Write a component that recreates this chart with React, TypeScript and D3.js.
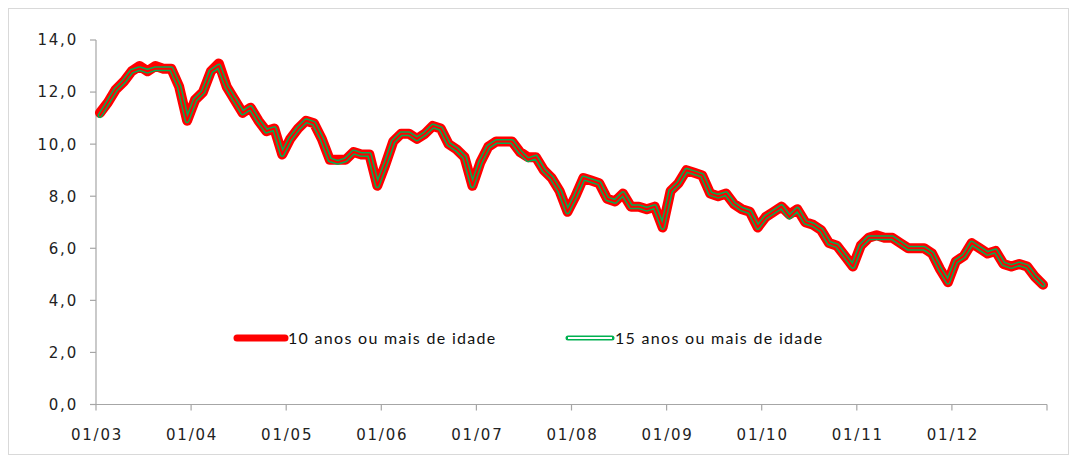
import React from "react";
import * as d3 from "d3";

const years = ["03", "04", "05", "06", "07", "08", "09", "10", "11", "12"];
const tickLabels = years.map((y) => `01/${y}`);
const yTicks = [0, 2, 4, 6, 8, 10, 12, 14];

const series10 = [
  11.2, 11.6, 12.1, 12.4, 12.8, 13.0, 12.8, 13.0, 12.9, 12.9, 12.2, 10.9,
  11.7, 12.0, 12.8, 13.1, 12.2, 11.7, 11.2, 11.4, 10.9, 10.5, 10.6, 9.6,
  10.2, 10.6, 10.9, 10.8, 10.2, 9.4, 9.4, 9.4, 9.7, 9.6, 9.6, 8.4,
  9.2, 10.1, 10.4, 10.4, 10.2, 10.4, 10.7, 10.6, 10.0, 9.8, 9.5, 8.4,
  9.3, 9.9, 10.1, 10.1, 10.1, 9.7, 9.5, 9.5, 9.0, 8.7, 8.2, 7.4,
  8.0, 8.7, 8.6, 8.5, 7.9, 7.8, 8.1, 7.6, 7.6, 7.5, 7.6, 6.8,
  8.2, 8.5, 9.0, 8.9, 8.8, 8.1, 8.0, 8.1, 7.7, 7.5, 7.4, 6.8,
  7.2, 7.4, 7.6, 7.3, 7.5, 7.0, 6.9, 6.7, 6.2, 6.1, 5.7, 5.3,
  6.1, 6.4, 6.5, 6.4, 6.4, 6.2, 6.0, 6.0, 6.0, 5.8, 5.2, 4.7,
  5.5, 5.7, 6.2, 6.0, 5.8, 5.9, 5.4, 5.3, 5.4, 5.3, 4.9, 4.6,
];

const series15 = [
  11.1, 11.6, 12.1, 12.4, 12.8, 12.9, 12.8, 12.9, 12.9, 12.9, 12.2, 10.9,
  11.7, 12.0, 12.8, 13.0, 12.2, 11.7, 11.2, 11.4, 10.9, 10.5, 10.6, 9.6,
  10.2, 10.6, 10.9, 10.8, 10.2, 9.4, 9.3, 9.4, 9.7, 9.6, 9.6, 8.4,
  9.2, 10.1, 10.4, 10.4, 10.2, 10.4, 10.7, 10.6, 10.0, 9.8, 9.5, 8.4,
  9.3, 9.9, 10.1, 10.1, 10.1, 9.7, 9.4, 9.5, 9.0, 8.7, 8.2, 7.4,
  8.0, 8.7, 8.6, 8.5, 7.9, 7.8, 8.1, 7.6, 7.6, 7.5, 7.6, 6.8,
  8.2, 8.5, 9.0, 8.9, 8.8, 8.1, 8.0, 8.1, 7.7, 7.5, 7.4, 6.8,
  7.2, 7.4, 7.6, 7.2, 7.5, 7.0, 6.9, 6.7, 6.2, 6.1, 5.7, 5.3,
  6.1, 6.4, 6.4, 6.4, 6.4, 6.2, 6.0, 6.0, 6.0, 5.8, 5.2, 4.7,
  5.5, 5.7, 6.2, 6.0, 5.8, 5.9, 5.4, 5.3, 5.4, 5.3, 4.9, 4.6,
];

const legendLabels = ["10 anos ou mais de idade", "15 anos ou mais de idade"];

const W = 1077;
const H = 461;
const left = 96;
const right = 1047;
const top = 40;
const bottom = 404.5;
const RED = "#ff0000";
const GREEN = "#00b050";
const AXIS = "#a6a6a6";

export default function App() {
  const n = series10.length;
  const x = d3
    .scaleBand<number>()
    .domain(d3.range(n))
    .range([left, right]);
  const y = d3.scaleLinear().domain([0, 14]).range([bottom, top]);
  const cx = (i: number) => (x(i) as number) + x.bandwidth() / 2;
  const line = d3
    .line<number>()
    .x((_, i) => cx(i))
    .y((d) => y(d));
  const p10 = line(series10) || "";
  const p15 = line(series15) || "";
  const xTickPos = d3.range(0, n + 1, 12).map((i) =>
    i < n ? (x(i) as number) : right
  );

  const axisFont = "'DejaVu Sans', Verdana, sans-serif";
  const legendFont = "Lato, 'Open Sans', sans-serif";

  return (
    <svg
      width={W}
      height={H}
      style={{ position: "absolute", left: 0, top: 0, background: "#fff" }}
    >
      <rect x={8.5} y={8.5} width={1060} height={446} fill="#fff" stroke="#d9d9d9" />
      {/* y axis */}
      <line x1={left} x2={left} y1={top} y2={bottom} stroke={AXIS} strokeWidth={1.2} />
      {yTicks.map((t) => (
        <g key={t}>
          <line x1={left - 6} x2={left} y1={y(t)} y2={y(t)} stroke={AXIS} strokeWidth={1.2} />
          <text
            x={78}
            y={y(t)}
            dy="0.36em"
            textAnchor="end"
            fontFamily={axisFont}
            fontSize={15}
            letterSpacing={1.8}
            fill="#222"
          >
            {t.toFixed(1).replace(".", ",")}
          </text>
        </g>
      ))}
      {/* x axis */}
      <line x1={left - 6} x2={right} y1={bottom} y2={bottom} stroke={AXIS} strokeWidth={1.2} />
      {xTickPos.map((px, k) => (
        <line key={k} x1={px} x2={px} y1={bottom} y2={bottom + 6} stroke={AXIS} strokeWidth={1.2} />
      ))}
      {tickLabels.map((lab, k) => (
        <text
          key={lab}
          x={xTickPos[k] + 1}
          y={440}
          textAnchor="middle"
          fontFamily={axisFont}
          fontSize={15}
          letterSpacing={1.8}
          fill="#222"
        >
          {lab}
        </text>
      ))}
      {/* series */}
      <path d={p10} fill="none" stroke={RED} strokeWidth={10} strokeLinejoin="round" strokeLinecap="round" />
      <path d={p15} fill="none" stroke={GREEN} strokeWidth={5} strokeLinejoin="round" strokeLinecap="round" />
      <path d={p15} fill="none" stroke={RED} strokeWidth={2} strokeLinejoin="round" strokeLinecap="round" />
      {/* legend */}
      <line x1={237} x2={285} y1={338} y2={338} stroke={RED} strokeWidth={7} strokeLinecap="round" />
      <text x={288} y={343.5} fontFamily={legendFont} fontSize={16} letterSpacing={1.3} fill="#111">
        {legendLabels[0]}
      </text>
      <line x1={568} x2={612} y1={338} y2={338} stroke={GREEN} strokeWidth={5} strokeLinecap="round" />
      <line x1={568} x2={612} y1={338} y2={338} stroke="#fff" strokeWidth={1.8} />
      <text x={615} y={343.5} fontFamily={legendFont} fontSize={16} letterSpacing={1.3} fill="#111">
        {legendLabels[1]}
      </text>
    </svg>
  );
}
